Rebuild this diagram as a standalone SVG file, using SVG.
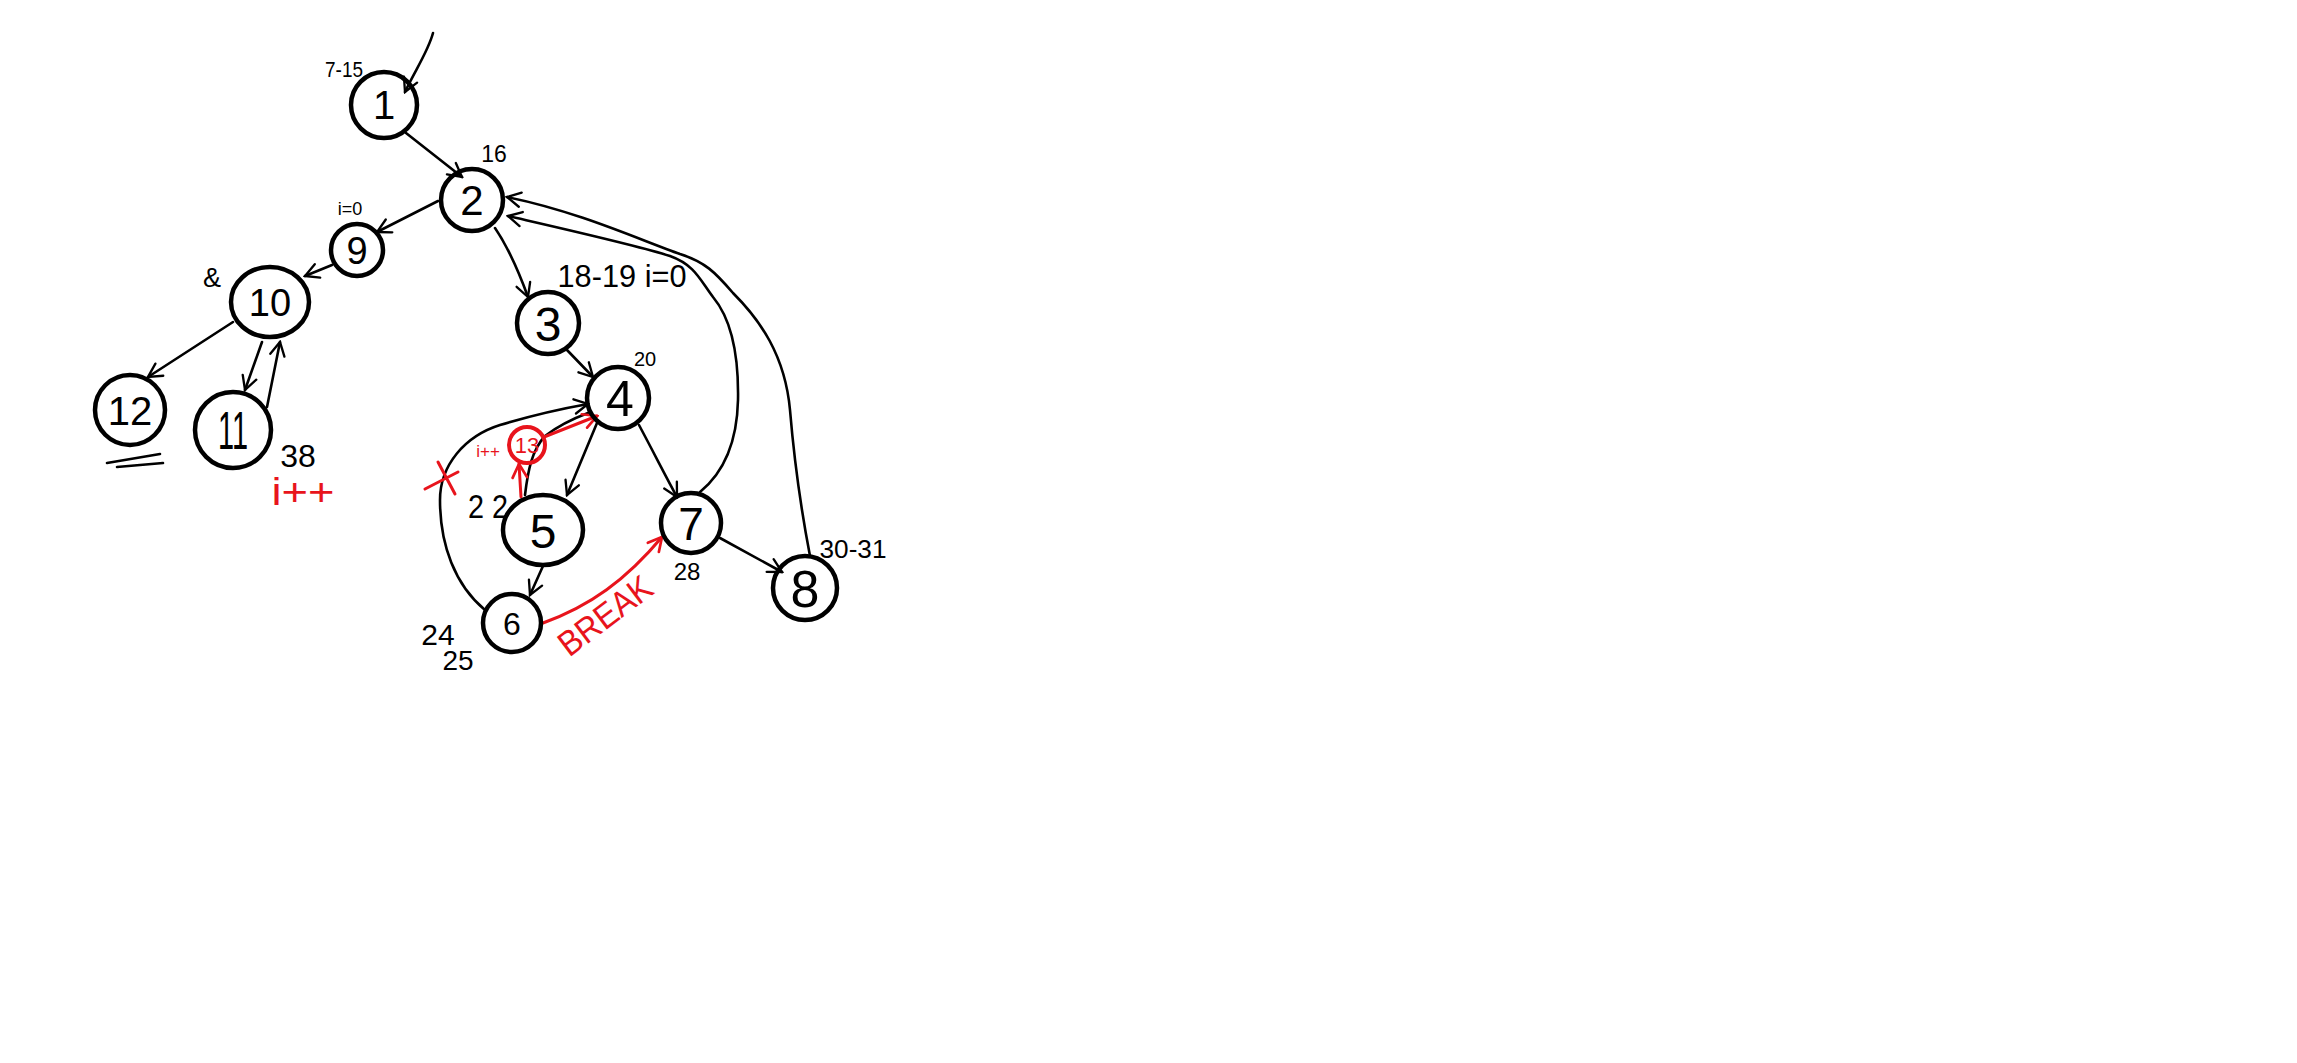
<svg xmlns="http://www.w3.org/2000/svg" width="2297" height="1063" viewBox="0 0 2297 1063">
<style>
.n{fill:none;stroke:#000;stroke-width:4.5}
.r{fill:none;stroke:#e8141c;stroke-width:4}
.t{font-family:"Liberation Sans",Arial,sans-serif;fill:#000;text-anchor:middle}
.tr{font-family:"Liberation Sans",Arial,sans-serif;fill:#e8141c;text-anchor:middle}
.e{fill:none;stroke:#000;stroke-width:2.6;stroke-linecap:round;stroke-linejoin:round}
.er{fill:none;stroke:#e8141c;stroke-width:3;stroke-linecap:round;stroke-linejoin:round}
</style>
<defs>
<marker id="a" viewBox="0 0 20 20" refX="18" refY="10" markerWidth="18" markerHeight="18" markerUnits="userSpaceOnUse" orient="auto">
<path d="M3,2 L18,10 L3,18" fill="none" stroke="#000" stroke-width="2.6" stroke-linecap="round"/>
</marker>
<marker id="ar" viewBox="0 0 20 20" refX="18" refY="10" markerWidth="18" markerHeight="18" markerUnits="userSpaceOnUse" orient="auto">
<path d="M3,2 L18,10 L3,18" fill="none" stroke="#e8141c" stroke-width="3" stroke-linecap="round"/>
</marker>
</defs>
<rect width="2297" height="1063" fill="#fff"/>

<g id="connectors">
<path class="e" marker-end="url(#a)" d="M433,33 C428,52 414,72 405,92"/>
<path class="e" marker-end="url(#a)" d="M406,133 L462,177"/>
<path class="e" marker-end="url(#a)" d="M438,201 L377,232"/>
<path class="e" marker-end="url(#a)" d="M332,265 L305,276"/>
<path class="e" marker-end="url(#a)" d="M233,322 L148,377"/>
<path class="e" marker-end="url(#a)" d="M262,342 L245,390"/>
<path class="e" marker-end="url(#a)" d="M267,407 L280,342"/>
<path class="e" marker-end="url(#a)" d="M495,228 C510,250 520,275 528,297"/>
<path class="e" marker-end="url(#a)" d="M567,350 L593,377"/>
<path class="e" marker-end="url(#a)" d="M597,423 L567,495"/>
<path class="e" marker-end="url(#a)" d="M543,566 L530,595"/>
<path class="e" marker-end="url(#a)" d="M639,425 C655,455 665,475 677,497"/>
<path class="e" marker-end="url(#a)" d="M720,538 L782,572"/>
<path class="e" marker-end="url(#a)" d="M485,610 C455,585 440,545 440,500 C440,465 465,436 500,425 C530,416 560,409 588,404"/>
<path class="e" d="M525,495 C528,470 532,450 545,436 C558,426 572,419 588,413"/>
<path class="e" marker-end="url(#a)" d="M700,492 C722,474 737,445 738,400 C739,345 728,315 713,297 C700,280 695,265 670,256 C640,246 560,228 508,216"/>
<path class="e" marker-end="url(#a)" d="M810,556 C805,530 795,470 790,410 C785,355 760,320 733,293 C715,272 705,262 680,254 C640,240 580,212 507,197"/>
<path class="er" marker-end="url(#ar)" d="M521,497 L519,464"/>
<path class="er" marker-end="url(#ar)" d="M544,437 L597,416"/>
<path class="er" marker-end="url(#ar)" d="M543,623 C590,606 626,580 662,537"/>
<path class="er" d="M425,489 L458,472 M438,462 L455,494"/>
<path class="e" d="M107,463 L160,454 M117,467 L163,463"/>
</g>

<g id="node1"><circle class="n" cx="384" cy="105" r="33"/><text class="t" x="384" y="119" font-size="40">1</text><text class="t" x="344" y="77" font-size="22" textLength="38" lengthAdjust="spacingAndGlyphs">7-15</text></g>
<g id="node2"><circle class="n" cx="472" cy="200" r="31"/><text class="t" x="472" y="215" font-size="42">2</text><text class="t" x="494" y="162" font-size="23">16</text></g>
<g id="node9"><circle class="n" cx="357" cy="250" r="26"/><text class="t" x="357" y="264" font-size="38">9</text><text class="t" x="350" y="215" font-size="18">i=0</text></g>
<g id="node10"><ellipse class="n" cx="270" cy="302" rx="39" ry="35"/><text class="t" x="270" y="316" font-size="38">10</text><text class="t" x="212" y="287" font-size="27">&amp;</text></g>
<g id="node12"><circle class="n" cx="130" cy="410" r="35"/><text class="t" x="130" y="425" font-size="40">12</text></g>
<g id="node11"><circle class="n" cx="233" cy="430" r="38"/><text class="t" x="233" y="449" font-size="54" textLength="30" lengthAdjust="spacingAndGlyphs">11</text><text class="t" x="298" y="467" font-size="32">38</text><text class="tr" x="303" y="505" font-size="38" textLength="63" lengthAdjust="spacingAndGlyphs">i++</text></g>
<g id="node3"><circle class="n" cx="548" cy="323" r="31"/><text class="t" x="548" y="341" font-size="48">3</text><text class="t" x="622" y="287" font-size="32" textLength="129" lengthAdjust="spacingAndGlyphs">18-19  i=0</text></g>
<g id="node4"><circle class="n" cx="618" cy="398" r="31"/><text class="t" x="620" y="416" font-size="50">4</text><text class="t" x="645" y="366" font-size="20">20</text></g>
<g id="node5"><ellipse class="n" cx="543" cy="530" rx="40" ry="35"/><text class="t" x="543" y="548" font-size="48">5</text><text class="t" x="488" y="518" font-size="34" textLength="40" lengthAdjust="spacingAndGlyphs">2 2</text></g>
<g id="node6"><circle class="n" cx="512" cy="623" r="29"/><text class="t" x="512" y="635" font-size="32">6</text><text class="t" x="438" y="645" font-size="30">24</text><text class="t" x="458" y="670" font-size="28">25</text></g>
<g id="node7"><circle class="n" cx="691" cy="523" r="30"/><text class="t" x="691" y="540" font-size="46">7</text><text class="t" x="687" y="580" font-size="24">28</text></g>
<g id="node8"><circle class="n" cx="805" cy="588" r="32"/><text class="t" x="805" y="607" font-size="52">8</text><text class="t" x="853" y="558" font-size="26" textLength="67" lengthAdjust="spacingAndGlyphs">30-31</text></g>
<g id="node13"><circle class="r" cx="527" cy="445" r="18"/><text class="tr" x="527" y="453" font-size="22">13</text><text class="tr" x="488" y="457" font-size="17">i++</text></g>
<g id="label-break"><text class="tr" x="604" y="628" font-size="35" textLength="108" lengthAdjust="spacingAndGlyphs" transform="rotate(-37 604 614)">BREAK</text></g>
</svg>
